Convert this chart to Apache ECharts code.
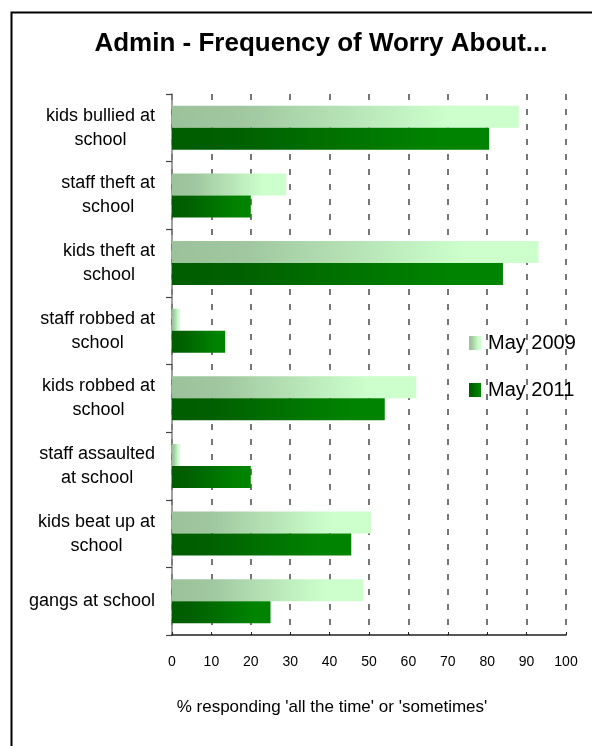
<!DOCTYPE html>
<html>
<head>
<meta charset="utf-8">
<script src="https://cdn.jsdelivr.net/npm/echarts@6/dist/echarts.min.js"></script>
<style>
html,body{margin:0;padding:0;background:#fff;}
#chart{width:592px;height:746px;}
</style>
</head>
<body>
<div id="chart"></div>
<script>
var categories = [
  "kids bullied at\nschool",
  "staff theft at\nschool",
  "kids theft at\nschool",
  "staff robbed at\nschool",
  "kids robbed at\nschool",
  "staff assaulted\nat school",
  "kids beat up at\nschool",
  "gangs at school"
];
var may2009 = [88, 29, 93, 2, 62, 2, 50.5, 48.5];
var may2011 = [80.5, 20, 84, 13.5, 54, 20, 45.5, 25];
var xTicks = [0, 10, 20, 30, 40, 50, 60, 70, 80, 90, 100];

var FONT = "Liberation Sans, Arial, sans-serif";
var grad2009 = new echarts.graphic.LinearGradient(0, 0, 1, 0, [
  {offset: 0, color: '#9CC29C'},
  {offset: 0.2, color: '#A0C7A0'},
  {offset: 0.8, color: '#CCFFCC'},
  {offset: 1, color: '#CCFFCC'}
]);
var grad2011 = new echarts.graphic.LinearGradient(0, 0, 1, 0, [
  {offset: 0, color: '#005C00'},
  {offset: 0.2, color: '#006000'},
  {offset: 0.85, color: '#008400'},
  {offset: 1, color: '#008400'}
]);

var chart = echarts.init(document.getElementById('chart'), null, {renderer: 'canvas'});
chart.setOption({
  animation: false,
  backgroundColor: '#fff',
  title: {
    text: 'Admin - Frequency of Worry About...',
    left: 316, top: 26, textAlign: 'center',
    textStyle: {fontFamily: FONT, fontSize: 26, fontWeight: 'bold', color: '#000'}
  },
  graphic: [{
    type: 'rect', left: 9, top: 10, silent: true,
    shape: {x: 0, y: 0, width: 700, height: 800},
    style: {fill: 'none', stroke: '#000', lineWidth: 2}
  }],
  legend: {
    orient: 'vertical', left: 469, top: 333, padding: 0,
    itemWidth: 12, itemHeight: 14, itemGap: 27,
    icon: 'rect',
    textStyle: {fontFamily: FONT, fontSize: 20, color: '#000', lineHeight: 20, padding: [0, 0, 0, 2]},
    data: ['May 2009', 'May 2011']
  },
  grid: {left: 172, right: 26, top: 94, bottom: 111, containLabel: false},
  xAxis: {
    type: 'value', min: 0, max: 100, interval: 10,
    axisLine: {show: true, lineStyle: {color: '#222', width: 1.5}},
    axisTick: {show: true, inside: true, length: 3, lineStyle: {color: '#222'}},
    axisLabel: {fontFamily: FONT, fontSize: 14, color: '#000', margin: 20,
      formatter: function (v) { return xTicks.indexOf(v) >= 0 ? String(v) : ''; }},
    splitLine: {show: true, lineStyle: {color: '#686868', width: 1.8, type: [6, 9]}},
    name: "% responding 'all the time' or 'sometimes'",
    nameLocation: 'middle', nameGap: 64,
    nameTextStyle: {fontFamily: FONT, fontSize: 17, color: '#000', padding: [0, 74, 0, 0]}
  },
  yAxis: {
    type: 'category', inverse: true, data: categories,
    axisLine: {show: true, lineStyle: {color: '#808080', width: 1.5}},
    axisTick: {show: true, length: 6, lineStyle: {color: '#444', width: 1.2}},
    axisLabel: {
      margin: 17, align: 'right', color: '#000', fontFamily: FONT, fontSize: 18, lineHeight: 24,
      formatter: function (v) { return v.split('\n').map(function (l) { return '{c|' + l + '}'; }).join('\n'); },
      rich: {c: {align: 'center', fontFamily: FONT, fontSize: 18, lineHeight: 24, color: '#000'}}
    },
    splitLine: {show: false}
  },
  series: [
    {name: 'May 2009', type: 'bar', data: may2009, barWidth: 22, barGap: '0%',
      itemStyle: {color: grad2009}},
    {name: 'May 2011', type: 'bar', data: may2011, barWidth: 22, barGap: '0%',
      itemStyle: {color: grad2011}}
  ]
});
</script>
</body>
</html>
